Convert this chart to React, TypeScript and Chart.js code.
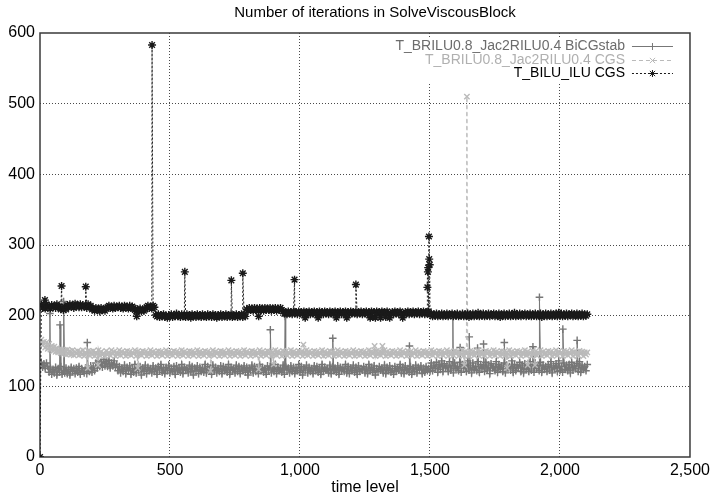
import React, { useEffect, useRef } from "react";
import { Chart, registerables } from "chart.js";

Chart.register(...registerables);

const TITLE = "Number of iterations in SolveViscousBlock";
const X_TITLE = "time level";
const SERIES_NAMES = [
  "T_BRILU0.8_Jac2RILU0.4 BiCGstab",
  "T_BRILU0.8_Jac2RILU0.4 CGS",
  "T_BILU_ILU CGS",
];
const X_MIN = 0;
const X_MAX = 2500;
const X_STEP = 500;
const Y_MIN = 0;
const Y_MAX = 600;
const Y_STEP = 100;

// sampled time levels: 5, 10, 15, ... 2105
const SAMPLE_START = 5;
const SAMPLE_STEP = 5;

const bicgstabBase = [
  134, 127, 132, 125, 133, 128, 120, 126, 117, 124,
  119, 127, 116, 125, 120, 128, 117, 123, 119, 126,
  118, 124, 116, 127, 121, 125, 118, 126, 120, 128,
  117, 125, 122, 119, 126, 118, 127, 121, 129, 120,
  127, 122, 133, 126, 136, 128, 134, 127, 138, 129,
  135, 128, 137, 126, 133, 129, 136, 127, 131, 122,
  128, 119, 126, 121, 130, 118, 127, 122, 129, 117,
  125, 120, 131, 119, 127, 123, 128, 116, 126, 121,
  130, 118, 127, 122, 125, 119, 129, 121, 126, 117,
  128, 123, 131, 120, 126, 118, 127, 122, 130, 119,
  125, 121, 128, 117, 129, 122, 126, 120, 131, 118,
  127, 123, 125, 119, 130, 121, 128, 116, 126, 122,
  129, 118, 127, 121, 125, 120, 131, 119, 128, 123,
  126, 117, 130, 122, 127, 119, 125, 121, 129, 118,
  128, 122, 126, 120, 131, 117, 127, 123, 125, 119,
  130, 121, 128, 118, 126, 122, 129, 120, 127, 116,
  125, 123, 130, 119, 128, 121, 126, 118, 131, 122,
  127, 120, 125, 117, 129, 123, 128, 119, 126, 121,
  131, 118, 127, 122, 125, 120, 130, 117, 128, 123,
  126, 119, 129, 121, 127, 118, 125, 122, 131, 120,
  128, 116, 126, 123, 130, 119, 127, 121, 125, 118,
  129, 122, 128, 120, 126, 117, 131, 121, 127, 123,
  125, 119, 130, 118, 128, 122, 126, 120, 129, 117,
  127, 123, 125, 121, 131, 119, 128, 118, 126, 122,
  130, 120, 127, 117, 129, 121, 125, 123, 128, 119,
  126, 118, 131, 122, 127, 120, 129, 116, 125, 121,
  128, 123, 126, 119, 130, 118, 127, 122, 129, 120,
  125, 117, 128, 121, 126, 123, 131, 119, 127, 118,
  129, 122, 125, 120, 128, 117, 126, 121, 130, 119,
  127, 123, 129, 118, 126, 120, 128, 122, 125, 121,
  133, 122, 130, 125, 134, 120, 131, 124, 136, 121,
  132, 126, 129, 121, 135, 123, 130, 119, 133, 125,
  128, 122, 134, 120, 131, 126, 129, 121, 136, 123,
  130, 119, 133, 124, 128, 122, 135, 120, 131, 125,
  129, 121, 134, 123, 130, 118, 132, 126, 128, 122,
  135, 120, 131, 124, 129, 121, 133, 119, 130, 125,
  128, 123, 136, 120, 131, 122, 129, 126, 134, 121,
  130, 119, 132, 124, 128, 121, 135, 123, 131, 120,
  133, 125, 129, 122, 134, 120, 130, 124, 128, 121,
  131, 123, 135, 119, 129, 125, 132, 121, 136, 122,
  128, 120, 133, 124, 130, 122, 131, 119, 134, 123,
  129, 125, 132, 121, 135, 120, 130, 124, 128, 122,
  131,
];
const bicgstabSpikes = [
  [38, 203], [77, 187], [91, 220], [182, 162], [886, 180], [943, 199],
  [1126, 168], [1421, 157], [1588, 200], [1616, 155], [1651, 170],
  [1683, 154], [1706, 160], [1786, 162], [1896, 156], [1921, 226],
  [2011, 181], [2066, 165],
];

const cgsBase = [
  166, 158, 163, 155, 162, 153, 160, 152, 157, 150,
  156, 149, 154, 148, 153, 147, 152, 146, 151, 145,
  152, 146, 150, 145, 151, 144, 149, 146, 150, 144,
  149, 145, 151, 143, 148, 146, 150, 144, 149, 145,
  150, 143, 148, 146, 151, 144, 149, 145, 147, 143,
  150, 145, 148, 144, 151, 146, 149, 143, 148, 145,
  151, 144, 149, 146, 148, 143, 150, 145, 149, 144,
  148, 146, 151, 143, 149, 145, 148, 144, 150, 146,
  149, 143, 148, 145, 151, 144, 149, 146, 148, 143,
  150, 145, 149, 144, 148, 146, 151, 143, 149, 145,
  148, 144, 150, 146, 149, 143, 148, 145, 151, 144,
  149, 146, 148, 143, 150, 145, 149, 144, 148, 146,
  151, 143, 149, 145, 148, 144, 150, 146, 149, 143,
  148, 145, 151, 144, 149, 146, 148, 143, 150, 145,
  149, 144, 148, 146, 151, 143, 149, 145, 148, 144,
  150, 146, 149, 143, 148, 145, 151, 144, 149, 146,
  148, 143, 150, 145, 149, 144, 148, 146, 151, 143,
  149, 145, 148, 144, 150, 146, 149, 143, 148, 145,
  151, 144, 149, 146, 148, 143, 150, 145, 149, 144,
  148, 146, 151, 143, 149, 145, 148, 144, 150, 146,
  149, 143, 148, 145, 151, 144, 149, 146, 148, 143,
  150, 145, 149, 144, 148, 146, 151, 143, 149, 145,
  148, 144, 150, 146, 149, 143, 148, 145, 151, 144,
  149, 146, 148, 143, 150, 145, 149, 144, 148, 146,
  151, 143, 149, 145, 148, 144, 150, 146, 149, 143,
  148, 145, 151, 144, 149, 146, 148, 143, 150, 145,
  149, 144, 148, 146, 151, 143, 149, 145, 148, 144,
  150, 146, 149, 143, 148, 145, 151, 144, 149, 146,
  148, 143, 150, 145, 149, 144, 148, 146, 151, 143,
  149, 145, 148, 144, 150, 146, 149, 143, 148, 145,
  151, 144, 149, 146, 148, 143, 150, 145, 149, 144,
  148, 146, 151, 143, 149, 145, 148, 144, 150, 146,
  149, 143, 148, 145, 151, 144, 149, 146, 148, 143,
  150, 145, 149, 144, 148, 146, 151, 143, 149, 145,
  148, 144, 150, 146, 149, 143, 148, 145, 151, 144,
  149, 146, 148, 143, 150, 145, 149, 144, 148, 146,
  151, 143, 149, 145, 148, 144, 150, 146, 149, 143,
  148, 145, 151, 144, 149, 146, 148, 143, 150, 145,
  149, 144, 148, 146, 151, 143, 149, 145, 148, 144,
  150, 146, 149, 143, 148, 145, 151, 144, 149, 146,
  148, 143, 150, 145, 149, 144, 148, 146, 151, 143,
  149, 145, 148, 144, 150, 146, 149, 143, 148, 145,
  148,
];
const cgsSpikes = [
  [184, 126], [223, 130], [376, 126], [656, 122], [841, 124], [899, 131],
  [1013, 159], [1287, 157], [1317, 157], [1632, 130], [1642, 510],
  [1797, 126], [1876, 130], [1904, 130],
];

const biluBase = [
  215, 211, 214, 210, 216, 212, 213, 210, 215, 212,
  214, 211, 216, 212, 213, 209, 211, 208, 212, 209,
  215, 212, 216, 213, 214, 211, 217, 213, 215, 212,
  216, 212, 215, 213, 214, 211, 216, 213, 214, 209,
  210, 207, 211, 208, 210, 206, 211, 208, 209, 207,
  210, 212, 214, 211, 213, 210, 214, 211, 213, 212,
  214, 211, 213, 210, 214, 212, 213, 210, 214, 211,
  213, 211, 208, 206, 209, 207, 210, 206, 209, 207,
  209, 212, 214, 211, 213, 210, 214, 212, 201, 199,
  202, 198, 201, 199, 202, 198, 200, 197, 201, 199,
  202, 198, 201, 199, 203, 199, 201, 198, 202, 199,
  200, 198, 202, 199, 201, 197, 202, 199, 201, 198,
  202, 199, 201, 198, 202, 199, 200, 198, 202, 199,
  201, 198, 202, 199, 201, 197, 201, 199, 202, 198,
  201, 199, 202, 198, 201, 199, 202, 198, 200, 199,
  202, 198, 201, 199, 202, 198, 201, 199, 209, 207,
  211, 208, 210, 207, 211, 208, 210, 207, 211, 208,
  210, 207, 211, 208, 210, 208, 211, 207, 210, 208,
  211, 207, 210, 208, 211, 208, 206, 203, 205, 202,
  206, 203, 205, 202, 206, 203, 205, 202, 206, 203,
  205, 202, 206, 197, 205, 203, 206, 202, 205, 203,
  206, 202, 205, 197, 206, 203, 205, 202, 206, 203,
  205, 202, 206, 203, 205, 202, 206, 197, 205, 203,
  206, 202, 205, 203, 206, 197, 205, 202, 206, 203,
  205, 203, 206, 202, 205, 203, 206, 202, 205, 203,
  206, 202, 205, 197, 206, 198, 205, 197, 206, 203,
  205, 197, 206, 203, 205, 198, 206, 202, 197, 203,
  205, 202, 206, 203, 205, 202, 206, 203, 197, 202,
  205, 203, 206, 202, 205, 203, 206, 202, 205, 203,
  206, 202, 205, 203, 206, 202, 205, 203, 206, 201,
  203, 199, 202, 200, 203, 199, 202, 200, 203, 199,
  202, 200, 203, 199, 202, 201, 203, 199, 202, 200,
  203, 199, 201, 200, 203, 199, 202, 200, 203, 198,
  202, 200, 203, 199, 202, 200, 204, 199, 202, 200,
  203, 199, 202, 200, 203, 199, 202, 201, 203, 199,
  202, 200, 203, 198, 202, 200, 203, 199, 202, 200,
  203, 199, 202, 200, 204, 199, 202, 200, 203, 199,
  202, 201, 203, 199, 202, 200, 203, 199, 202, 200,
  203, 199, 202, 200, 203, 198, 202, 200, 203, 199,
  202, 200, 203, 199, 202, 200, 203, 199, 204, 200,
  203, 199, 202, 200, 203, 199, 202, 201, 203, 199,
  202, 200, 203, 199, 202, 200, 203, 199, 202, 200,
  202,
];
const biluSpikes = [
  [0, 0], [19, 222], [83, 242], [176, 241], [372, 199], [431, 583],
  [557, 262], [736, 250], [780, 260], [841, 199], [979, 251], [1215, 244],
  [1490, 240], [1492, 262], [1493, 268], [1496, 312], [1497, 280], [1499, 272],
];

const COLORS = ["#777777", "#bababa", "#1a1a1a"];
const TEXT_COLORS = ["#6c6c6c", "#b0b0b0", "#000000"];
const DASHES = [[], [4, 3], [2, 2]];
const MARKERS = ["cross", "crossRot", "star"];
const POINT_RADII = [3.8, 3.8, 4];

const FONT = '"Liberation Sans", Arial, sans-serif';

function buildPoints(base: number[], extra: number[][]) {
  const pts = base.map((v, i) => ({ x: SAMPLE_START + i * SAMPLE_STEP, y: v }));
  extra.forEach(([x, y]) => pts.push({ x, y }));
  pts.sort((a, b) => a.x - b.x);
  return pts;
}

function drawMarker(ctx: CanvasRenderingContext2D, kind: string, x: number, y: number, r: number) {
  ctx.beginPath();
  if (kind === "cross" || kind === "star") {
    ctx.moveTo(x - r, y);
    ctx.lineTo(x + r, y);
    ctx.moveTo(x, y - r);
    ctx.lineTo(x, y + r);
  }
  if (kind === "crossRot" || kind === "star") {
    const d = r * 0.75;
    ctx.moveTo(x - d, y - d);
    ctx.lineTo(x + d, y + d);
    ctx.moveTo(x - d, y + d);
    ctx.lineTo(x + d, y - d);
  }
  ctx.stroke();
}

const framePlugin = {
  id: "frame",
  beforeDatasetsDraw(chart: any) {
    const { ctx, chartArea } = chart;
    ctx.save();
    ctx.strokeStyle = "#3a3a3a";
    ctx.lineWidth = 1.5;
    ctx.strokeRect(chartArea.left, chartArea.top, chartArea.right - chartArea.left, chartArea.bottom - chartArea.top);
    ctx.restore();
  },
  afterDraw(chart: any) {
    const { ctx } = chart;
    ctx.save();
    ctx.font = "15px " + FONT;
    ctx.fillStyle = "#000";
    ctx.textAlign = "center";
    ctx.textBaseline = "middle";
    ctx.fillText(TITLE, 375, 13);
    ctx.restore();
  },
};

const legendPlugin = {
  id: "customLegend",
  afterDatasetsDraw(chart: any) {
    const { ctx, chartArea } = chart;
    const right = chartArea.right;
    ctx.save();
    ctx.fillStyle = "#ffffff";
    ctx.fillRect(362, 38, right - 363, 45);
    const rowsY = [46, 60, 73];
    ctx.font = "14px " + FONT;
    ctx.textAlign = "right";
    ctx.textBaseline = "middle";
    SERIES_NAMES.forEach((name, i) => {
      const y = rowsY[i];
      ctx.fillStyle = TEXT_COLORS[i];
      ctx.fillText(name, right - 65, y);
      ctx.strokeStyle = COLORS[i];
      ctx.lineWidth = 1;
      ctx.setLineDash(DASHES[i]);
      ctx.beginPath();
      ctx.moveTo(right - 58, y + 0.5);
      ctx.lineTo(right - 17, y + 0.5);
      ctx.stroke();
      ctx.setLineDash([]);
      drawMarker(ctx, MARKERS[i], right - 37.5, y + 0.5, 3.5);
    });
    ctx.restore();
  },
};

export default function App() {
  const canvasRef = useRef<HTMLCanvasElement | null>(null);

  useEffect(() => {
    const canvas = canvasRef.current;
    if (!canvas) return;
    const bases = [bicgstabBase, cgsBase, biluBase];
    const extras = [bicgstabSpikes, cgsSpikes, biluSpikes];
    const orders = [2, 1, 0];
    const datasets = SERIES_NAMES.map((name, i) => ({
      label: name,
      data: buildPoints(bases[i], extras[i]),
      borderColor: COLORS[i],
      backgroundColor: COLORS[i],
      borderWidth: 1.6,
      borderDash: DASHES[i],
      segment: {
        borderWidth: (ctx: any) =>
          Math.abs(ctx.p1.parsed.y - ctx.p0.parsed.y) > 25 ? 1 : 1.6,
      },
      pointStyle: MARKERS[i],
      pointRadius: POINT_RADII[i],
      pointBorderColor: COLORS[i],
      pointBorderWidth: 1.4,
      pointHoverRadius: 3,
      tension: 0,
      order: orders[i],
    }));

    const gridColor = (ctx: any) => {
      const v = ctx.tick ? ctx.tick.value : null;
      if (v === null) return "rgba(0,0,0,0)";
      if (ctx.scale.axis === "x" && (v === X_MIN || v === X_MAX)) return "rgba(0,0,0,0)";
      if (ctx.scale.axis === "y" && (v === Y_MIN || v === Y_MAX)) return "rgba(0,0,0,0)";
      return "#4a4a4a";
    };

    const chart = new Chart(canvas, {
      type: "line",
      data: { datasets: datasets as any },
      options: {
        responsive: false,
        animation: false,
        devicePixelRatio: 1,
        locale: "en-US",
        layout: { padding: { top: 33, right: 22, left: 0, bottom: 0 } },
        plugins: {
          legend: { display: false },
          title: { display: false },
          tooltip: { enabled: false },
        },
        scales: {
          x: {
            type: "linear",
            min: X_MIN,
            max: X_MAX,
            afterFit: (scale: any) => {
              scale.height = 40;
            },
            ticks: {
              stepSize: X_STEP,
              padding: 4,
              maxRotation: 0,
              autoSkip: false,
              color: "#000",
              font: { family: FONT, size: 16 },
            },
            grid: { color: gridColor, lineWidth: 1, drawTicks: false },
            border: { display: false, dash: [1, 2] },
            title: {
              display: true,
              text: X_TITLE,
              color: "#000",
              font: { family: FONT, size: 16 },
              padding: { top: 0, bottom: 0 },
            },
          },
          y: {
            type: "linear",
            min: Y_MIN,
            max: Y_MAX,
            afterFit: (scale: any) => {
              scale.width = 40;
            },
            ticks: {
              stepSize: Y_STEP,
              padding: 5,
              color: "#000",
              font: { family: FONT, size: 16 },
            },
            grid: { color: gridColor, lineWidth: 1, drawTicks: false },
            border: { display: false, dash: [1, 2] },
          },
        },
      } as any,
      plugins: [framePlugin, legendPlugin],
    });
    return () => chart.destroy();
  }, []);

  return (
    <div style={{ position: "fixed", left: 0, top: 0, width: 714, height: 497, background: "#fff" }}>
      <canvas ref={canvasRef} width={714} height={497} />
    </div>
  );
}
